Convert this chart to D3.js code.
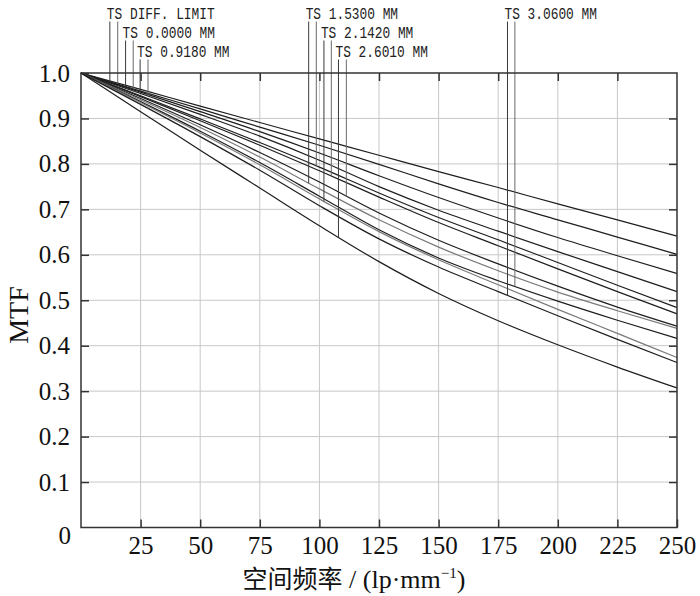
<!DOCTYPE html>
<html>
<head>
<meta charset="utf-8">
<script src="https://cdn.jsdelivr.net/npm/d3@7"></script>
<style>
  html, body { margin: 0; padding: 0; background: #fff; }
  svg { display: block; }
</style>
</head>
<body>
<svg id="chart" width="700" height="596"></svg>
<script>
// ---------------- data ----------------
const freqs = [0, 25, 50, 75, 100, 125, 150, 175, 200, 225, 250];

const diffLimit = [1, 0.964, 0.927, 0.891, 0.855, 0.819, 0.783, 0.748, 0.712, 0.677, 0.641];
const field0000 = [1, 0.960, 0.921, 0.881, 0.841, 0.799, 0.756, 0.715, 0.677, 0.639, 0.601];
const f0918T    = [1, 0.958, 0.915, 0.871, 0.824, 0.774, 0.726, 0.681, 0.638, 0.598, 0.559];
const f0918S    = [1, 0.955, 0.909, 0.861, 0.808, 0.750, 0.698, 0.652, 0.607, 0.563, 0.519];
const f1530S    = [1, 0.950, 0.899, 0.847, 0.793, 0.736, 0.682, 0.633, 0.583, 0.533, 0.484];
const f2142S    = [1, 0.948, 0.895, 0.841, 0.785, 0.727, 0.671, 0.620, 0.569, 0.519, 0.470];
const f2601S    = [1, 0.944, 0.886, 0.825, 0.760, 0.692, 0.632, 0.580, 0.531, 0.485, 0.443];
const f1530T    = [1, 0.941, 0.880, 0.815, 0.745, 0.677, 0.617, 0.565, 0.518, 0.477, 0.438];
const f3060S    = [1, 0.937, 0.872, 0.803, 0.729, 0.655, 0.593, 0.543, 0.498, 0.456, 0.416];
const f2142T    = [1, 0.935, 0.868, 0.798, 0.723, 0.651, 0.589, 0.534, 0.480, 0.427, 0.374];
const f3060T    = [1, 0.931, 0.860, 0.786, 0.708, 0.635, 0.573, 0.519, 0.466, 0.414, 0.363];
const f2601T    = [1, 0.915, 0.830, 0.747, 0.664, 0.585, 0.515, 0.455, 0.402, 0.353, 0.307];

const seriesList = [
  { name: "DIFF T/S", values: diffLimit, tone: "dark" },
  { name: "0.0000 T/S", values: field0000, tone: "dark" },
  { name: "0.9180 T", values: f0918T, tone: "dark" },
  { name: "0.9180 S", values: f0918S, tone: "dark" },
  { name: "1.5300 S", values: f1530S, tone: "dark" },
  { name: "2.1420 S", values: f2142S, tone: "dark" },
  { name: "2.6010 S", values: f2601S, tone: "dark" },
  { name: "1.5300 T", values: f1530T, tone: "gray" },
  { name: "3.0600 S", values: f3060S, tone: "dark" },
  { name: "2.1420 T", values: f2142T, tone: "gray" },
  { name: "3.0600 T", values: f3060T, tone: "dark" },
  { name: "2.6010 T", values: f2601T, tone: "dark" }
];

// field labels and the frequencies where their T / S leader lines sit
const fieldLabels = ["TS DIFF. LIMIT", "TS 0.0000 MM", "TS 0.9180 MM", "TS 1.5300 MM", "TS 2.1420 MM", "TS 2.6010 MM", "TS 3.0600 MM"];
const leaderFreqT = [12.1, 18.7, 24.8, 95.5, 101.9, 108.0, 178.9];
const leaderFreqS = [15.4, 21.9, 28.1, 98.7, 105.0, 111.3, 182.0];
const leaderCurveT = [diffLimit, field0000, f0918T, f1530T, f2142T, f2601T, f3060T];
const leaderCurveS = [diffLimit, field0000, f0918S, f1530S, f2142S, f2601S, f3060S];

const xTicks = [25, 50, 75, 100, 125, 150, 175, 200, 225, 250];
const xGrid  = [25, 50, 75, 100, 125, 150, 175, 200, 225];
const yTicks = [0, 0.1, 0.2, 0.3, 0.4, 0.5, 0.6, 0.7, 0.8, 0.9, 1.0];
const yGrid  = [0.1, 0.2, 0.3, 0.4, 0.5, 0.6, 0.7, 0.8, 0.9];

// ---------------- layout ----------------
const W = 700, H = 596;
const M = { left: 81, right: 23, top: 73, bottom: 68.5 };
const iw = W - M.left - M.right, ih = H - M.top - M.bottom;

const svg = d3.select("#chart");
const x = d3.scaleLinear().domain([0, 250]).range([M.left, M.left + iw]);
const y = d3.scaleLinear().domain([0, 1]).range([M.top + ih, M.top]);

const serif = "'Liberation Serif', 'Times New Roman', serif";

// grid
svg.append("g").selectAll("line").data(xGrid).join("line")
  .attr("x1", d => x(d)).attr("x2", d => x(d))
  .attr("y1", y(0)).attr("y2", y(1))
  .attr("stroke", "#c8c8c8").attr("stroke-width", 1);
svg.append("g").selectAll("line").data(yGrid).join("line")
  .attr("x1", x(0)).attr("x2", x(250))
  .attr("y1", d => y(d)).attr("y2", d => y(d))
  .attr("stroke", "#c8c8c8").attr("stroke-width", 1);

// curves
const line = d3.line()
  .x((d, i) => x(freqs[i]))
  .y(d => y(d))
  .curve(d3.curveMonotoneX);

svg.append("g").selectAll("path").data(seriesList).join("path")
  .attr("d", d => line(d.values))
  .attr("fill", "none")
  .attr("stroke", d => d.tone === "gray" ? "#7a7a7a" : "#1e1e1e")
  .attr("stroke-width", 1.2);

// leader lines
const rowBase = [18.5, 37.5, 56.5];
function valueAt(curve, f) {
  return d3.scaleLinear().domain(freqs).range(curve)(f);
}
const leaders = [];
fieldLabels.forEach((lab, i) => {
  const row = i % 3;
  leaders.push({ f: leaderFreqT[i], v: valueAt(leaderCurveT[i], leaderFreqT[i]), row, c: "#3a3a3a" });
  leaders.push({ f: leaderFreqS[i], v: valueAt(leaderCurveS[i], leaderFreqS[i]), row, c: "#6a6a6a" });
});
svg.append("g").selectAll("line").data(leaders).join("line")
  .attr("x1", d => x(d.f)).attr("x2", d => x(d.f))
  .attr("y1", d => rowBase[d.row] + 3)
  .attr("y2", d => y(d.v))
  .attr("stroke", d => d.c).attr("stroke-width", 1);

// labels
svg.append("g").selectAll("text").data(fieldLabels).join("text")
  .attr("x", (d, i) => x(leaderFreqT[i]) - 3)
  .attr("y", (d, i) => rowBase[i % 3])
  .attr("font-family", "'Liberation Mono', 'DejaVu Sans Mono', monospace")
  .attr("font-size", 16)
  .attr("textLength", d => d.length * 7.7)
  .attr("lengthAdjust", "spacingAndGlyphs")
  .attr("fill", "#222")
  .text(d => d);

// frame
svg.append("rect")
  .attr("x", x(0)).attr("y", y(1))
  .attr("width", x(250) - x(0)).attr("height", y(0) - y(1))
  .attr("fill", "none").attr("stroke", "#333").attr("stroke-width", 1.5);

// axes
const axB = svg.append("g").attr("transform", `translate(0,${y(0)})`)
  .call(d3.axisBottom(x).tickValues(xTicks).tickSize(-8).tickPadding(9).tickFormat(d3.format("d")));
const axL = svg.append("g").attr("transform", `translate(${x(0)},0)`)
  .call(d3.axisLeft(y).tickValues(yTicks.slice(1)).tickSize(-8).tickPadding(11).tickFormat(d3.format(".1f")));
const axT = svg.append("g").attr("transform", `translate(0,${y(1)})`)
  .call(d3.axisTop(x).tickValues(xGrid).tickSize(-8).tickFormat(""));
const axR = svg.append("g").attr("transform", `translate(${x(250)},0)`)
  .call(d3.axisRight(y).tickValues(yGrid).tickSize(-8).tickFormat(""));

[axB, axL, axT, axR].forEach(g => {
  g.select(".domain").remove();
  g.selectAll(".tick line").attr("stroke", "#333").attr("stroke-width", 1.5);
  g.selectAll("text").attr("font-family", serif).attr("font-size", 25).attr("fill", "#111");
});

// origin "0" label (shared)
svg.append("text")
  .attr("x", x(0) - 10).attr("y", y(0) + 16)
  .attr("text-anchor", "end")
  .attr("font-family", serif).attr("font-size", 25).attr("fill", "#111")
  .text(d3.format("d")(yTicks[0]));

// axis titles
const xt = svg.append("text")
  .attr("x", 354).attr("y", 588)
  .attr("text-anchor", "middle")
  .attr("font-family", serif).attr("font-size", 26).attr("fill", "#111");
xt.append("tspan").attr("font-family", "'Noto Sans CJK SC', sans-serif").attr("font-size", 25).text("空间频率");
xt.append("tspan").text(" / (lp·mm");
xt.append("tspan").attr("font-size", 15).attr("dy", -10).text("−1");
xt.append("tspan").attr("dy", 10).text(")");

svg.append("text")
  .attr("transform", "translate(28,315) rotate(-90)")
  .attr("text-anchor", "middle")
  .attr("font-family", serif).attr("font-size", 28).attr("fill", "#111")
  .text("MTF");
</script>
</body>
</html>
